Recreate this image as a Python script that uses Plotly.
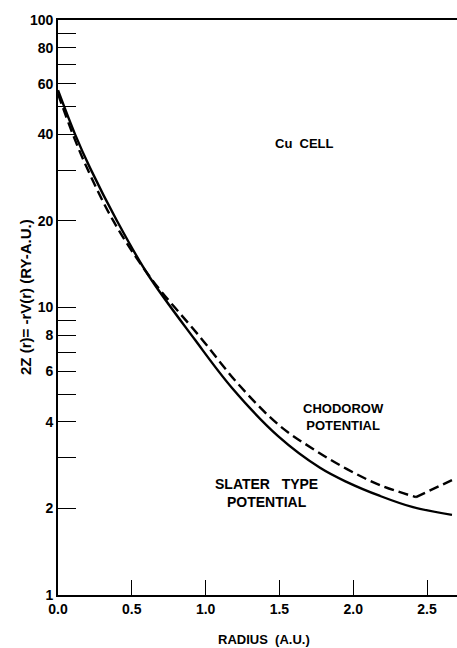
import plotly.graph_objects as go

# Slater type potential (solid)
slater_r = [0.0, 0.115, 0.217, 0.40, 0.61, 0.928, 1.179, 1.491, 1.775, 1.958, 2.182, 2.405, 2.669]
slater_v = [57.0, 40.1, 30.6, 20.0, 13.0, 7.72, 5.25, 3.57, 2.77, 2.47, 2.21, 2.02, 1.90]

# Chodorow potential (dashed)
chod_r = [0.0, 0.10, 0.196, 0.375, 0.623, 0.962, 1.233, 1.504, 1.728, 1.958, 2.182, 2.425, 2.669]
chod_v = [55.3, 40.1, 30.6, 20.0, 12.77, 7.90, 5.33, 3.87, 3.22, 2.74, 2.41, 2.19, 2.51]
kink = 11  # index of the minimum where the curve turns sharply

y_tickvals = [1, 2, 3, 4, 5, 6, 7, 8, 9, 10, 20, 30, 40, 50, 60, 70, 80, 90, 100]
y_ticktext = ["1", "2", "", "4", "", "6", "", "8", "", "10", "20", "", "40", "", "60", "", "80", "", "100"]
x_tickvals = [0.0, 0.5, 1.0, 1.5, 2.0, 2.5]
x_ticktext = ["0.0", "0.5", "1.0", "1.5", "2.0", "2.5"]

FONT = "Liberation Sans"
W, H = 457, 648
L, R, T, B = 58, 0, 20, 53
pw, ph = W - L - R, H - T - B


def px(x):
    return (x - L) / pw


def py(y):
    return (H - B - y) / ph


fig = go.Figure()
fig.add_trace(go.Scatter(x=slater_r, y=slater_v, mode="lines",
                         line=dict(color="black", width=2.4, shape="spline", smoothing=1.0),
                         showlegend=False))
fig.add_trace(go.Scatter(x=chod_r[:kink + 1], y=chod_v[:kink + 1], mode="lines",
                         line=dict(color="black", width=2.4, dash="10px,5px", shape="spline", smoothing=1.0),
                         showlegend=False))
fig.add_trace(go.Scatter(x=chod_r[kink:], y=chod_v[kink:], mode="lines",
                         line=dict(color="black", width=2.4, dash="10px,5px"),
                         showlegend=False))

annot_font = dict(family=FONT, size=13, color="black", weight="bold")
annotations = [
    dict(text="Cu  CELL", x=px(304), y=py(143)),
    dict(text="CHODOROW<br>POTENTIAL", x=px(343), y=py(417)),
    dict(text="SLATER   TYPE<br>POTENTIAL", x=px(266), y=py(493), font=dict(family=FONT, size=14, color="black", weight="bold")),
    dict(text="RADIUS  (A.U.)", x=px(264), y=py(639)),
    dict(text="2Z (r)= -rV(r) (RY-A.U.)", x=px(26), y=py(297), textangle=-90,
         font=dict(family=FONT, size=15, color="black", weight="bold")),
]
for a in annotations:
    a.setdefault("font", annot_font)
    fig.add_annotation(xref="paper", yref="paper", xanchor="center", yanchor="middle",
                       showarrow=False, **a)

tick_font = dict(family=FONT, size=14, color="black", weight="bold")
fig.update_layout(
    width=W, height=H,
    margin=dict(l=L, r=R, t=T, b=B, pad=0),
    paper_bgcolor="white", plot_bgcolor="white",
    xaxis=dict(range=[0, 2.703], tickvals=x_tickvals, ticktext=x_ticktext,
               ticks="inside", ticklen=15, tickwidth=1.3, tickcolor="black",
               showline=True, linecolor="black", linewidth=1.6, mirror=True,
               showgrid=False, zeroline=False, tickfont=tick_font),
    yaxis=dict(type="log", range=[0, 2], tickvals=y_tickvals, ticktext=y_ticktext,
               ticks="inside", ticklen=18, tickwidth=1.3, tickcolor="black",
               showline=True, linecolor="black", linewidth=1.6,
               showgrid=False, zeroline=False, tickfont=tick_font),
)

fig.write_html("out.html")
